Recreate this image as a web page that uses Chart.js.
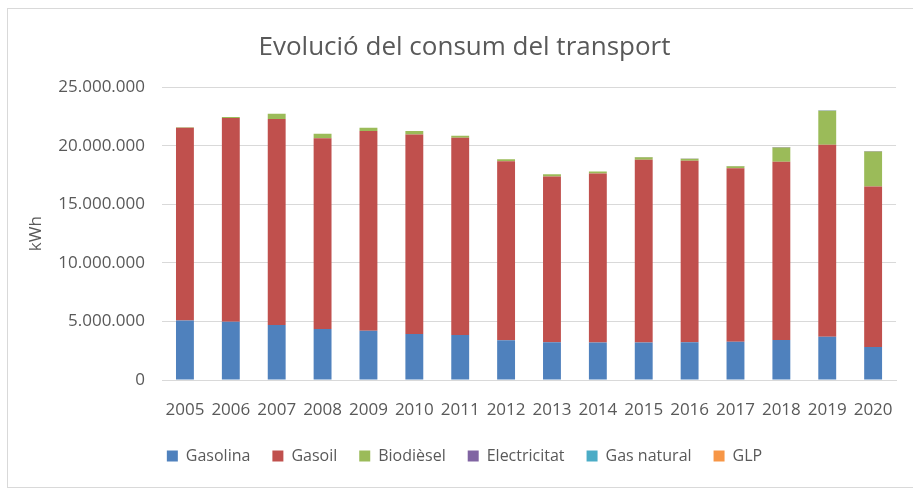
<!DOCTYPE html>
<html>
<head>
<meta charset="utf-8">
<script src="https://cdn.jsdelivr.net/npm/chart.js@4/dist/chart.umd.min.js"></script>
<style>
  html, body { margin: 0; padding: 0; background: #fff; }
  #wrap { width: 913px; height: 494px; }
</style>
</head>
<body>
<div id="wrap"><canvas id="consumChart" width="913" height="494"></canvas></div>
<script>
// anys i consum (kWh) llegits del gràfic
const years = ['2005','2006','2007','2008','2009','2010','2011','2012','2013','2014','2015','2016','2017','2018','2019','2020'];
const gasolina = [5080000, 4970000, 4690000, 4350000, 4200000, 3920000, 3840000, 3390000, 3220000, 3200000, 3200000, 3220000, 3270000, 3410000, 3700000, 2820000];
const gasoil = [16450000, 17400000, 17600000, 16300000, 17070000, 17040000, 16840000, 15280000, 14150000, 14430000, 15610000, 15510000, 14810000, 15230000, 16380000, 13710000];
const biodiesel = [50000, 90000, 450000, 370000, 260000, 310000, 170000, 170000, 200000, 170000, 200000, 170000, 170000, 1220000, 2910000, 2990000];
const electricitat = [0, 0, 0, 0, 0, 0, 0, 0, 0, 0, 20000, 20000, 20000, 30000, 30000, 30000];
const gasNatural = [0, 0, 0, 0, 0, 0, 0, 0, 0, 0, 0, 0, 0, 10000, 10000, 10000];
const glp = [0, 0, 0, 0, 0, 0, 0, 0, 0, 0, 0, 0, 0, 0, 0, 0];
const yTicks = [0, 5000000, 10000000, 15000000, 20000000, 25000000];

const textColor = '#595959';
const gridColor = '#d9d9d9';
const font = 'Open Sans';

function fmt(v) {
  return v.toString().replace(/\B(?=(\d{3})+(?!\d))/g, '.');
}

// marc gris al voltant del gràfic
const frame = {
  id: 'frame',
  beforeDraw(chart) {
    const c = chart.ctx;
    c.save();
    c.fillStyle = '#fff';
    c.fillRect(0, 0, chart.width, chart.height);
    c.strokeStyle = gridColor;
    c.lineWidth = 1;
    c.strokeRect(7.5, 8.5, 920, 479);
    c.restore();
  }
};

const ds = (label, data, color) => ({
  label, data,
  backgroundColor: color,
  borderWidth: 0,
  barPercentage: 0.39,
  categoryPercentage: 1
});

new Chart(document.getElementById('consumChart'), {
  type: 'bar',
  data: {
    labels: years,
    datasets: [
      ds('Gasolina', gasolina, '#4F81BD'),
      ds('Gasoil', gasoil, '#C0504D'),
      ds('Biodièsel', biodiesel, '#9BBB59'),
      ds('Electricitat', electricitat, '#8064A2'),
      ds('Gas natural', gasNatural, '#4BACC6'),
      ds('GLP', glp, '#F79646')
    ]
  },
  options: {
    responsive: false,
    animation: false,
    layout: { padding: { left: 30, right: 14, top: 0, bottom: 20 } },
    plugins: {
      title: {
        display: true,
        text: 'Evolució del consum del transport',
        color: textColor,
        font: { family: font, size: 26, weight: 'normal' },
        padding: { top: 32, bottom: 24 }
      },
      legend: {
        position: 'bottom',
        labels: {
          color: textColor,
          font: { family: font, size: 16 },
          boxWidth: 11,
          boxHeight: 11,
          padding: 22
        }
      },
      tooltip: { enabled: false }
    },
    scales: {
      x: {
        stacked: true,
        afterFit(scale) { scale.height = 46; },
        grid: { display: false, drawTicks: false },
        border: { color: gridColor },
        ticks: { color: textColor, font: { family: font, size: 17 }, padding: 20, maxRotation: 0 }
      },
      y: {
        stacked: true,
        min: 0,
        max: 25000000,
        afterFit(scale) { scale.width = 132; },
        afterBuildTicks(scale) { scale.ticks = yTicks.map(v => ({ value: v })); },
        grid: { color: gridColor, drawTicks: false },
        border: { display: false },
        ticks: { color: textColor, font: { family: font, size: 17 }, padding: 17, callback: v => fmt(v) },
        title: {
          display: true,
          text: 'kWh',
          color: textColor,
          font: { family: font, size: 17 },
          padding: { top: -4, bottom: 0 }
        }
      }
    }
  },
  plugins: [frame]
});
</script>
</body>
</html>
